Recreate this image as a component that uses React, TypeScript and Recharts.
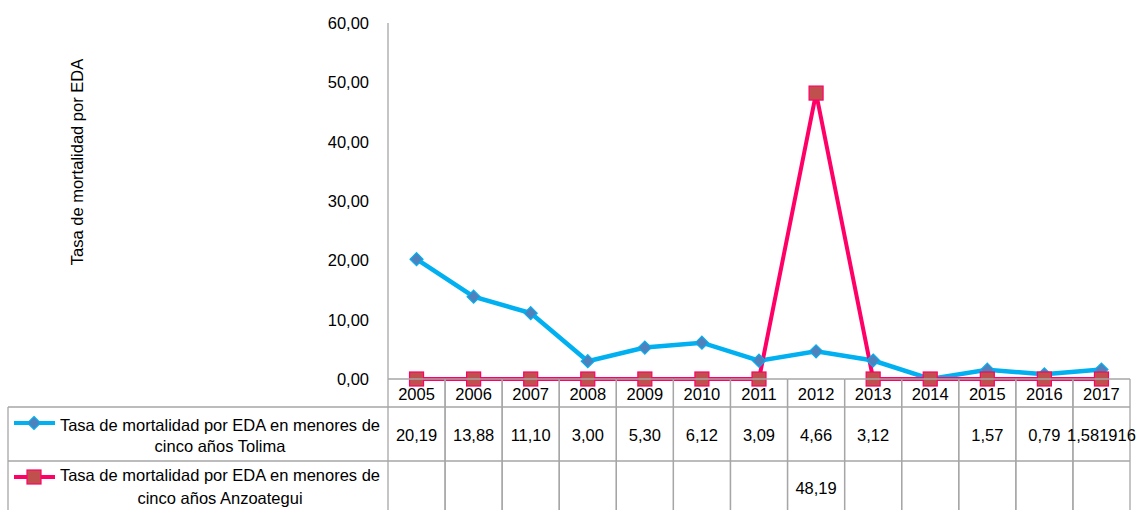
import React from "react";
import { LineChart, Line, XAxis, YAxis } from "recharts";

const years = ["2005", "2006", "2007", "2008", "2009", "2010", "2011", "2012", "2013", "2014", "2015", "2016", "2017"];
const tolima = [20.19, 13.88, 11.1, 3.0, 5.3, 6.12, 3.09, 4.66, 3.12, 0, 1.57, 0.79, 1.581916];
const anzoategui = [0, 0, 0, 0, 0, 0, 0, 48.19, 0, 0, 0, 0, 0];
const tolimaLabels = ["20,19", "13,88", "11,10", "3,00", "5,30", "6,12", "3,09", "4,66", "3,12", "", "1,57", "0,79", "1,581916"];
const anzLabels = ["", "", "", "", "", "", "", "48,19", "", "", "", "", ""];
const yTicks = [0, 10, 20, 30, 40, 50, 60];
const seriesNames = [
  ["Tasa de mortalidad por EDA en menores de", "cinco años Tolima"],
  ["Tasa de mortalidad por EDA en menores de", "cinco años Anzoategui"],
];
const yTitle = "Tasa de mortalidad por EDA";

const data = years.map((y, i) => ({ year: y, tolima: tolima[i], anz: anzoategui[i] }));

const W = 1137;
const H = 510;
const PLOT_LEFT = 388;
const PLOT_RIGHT = 1130;
const PLOT_TOP = 23;
const PLOT_BOTTOM = 379;
const COL_W = (PLOT_RIGHT - PLOT_LEFT) / years.length;
const ROW1_TOP = 28; // relative to axis top
const ROW2_TOP = 82;
const TABLE_BOTTOM = 131;
const GRID = "#A6A6A6";
const FONT = "'Liberation Sans', Arial, sans-serif";
const FS = 16.5;
const BLUE = "#00B0F0";
const PINK = "#FF0066";

const fmt = (v: number) => v.toFixed(2).replace(".", ",");

const Diamond = (props: any) => {
  const { cx, cy } = props;
  if (cx == null || cy == null) return null;
  const r = 6.5;
  return (
    <polygon
      points={`${cx},${cy - r} ${cx + r},${cy} ${cx},${cy + r} ${cx - r},${cy}`}
      fill="#4F81BD"
      stroke={BLUE}
      strokeWidth={1.2}
    />
  );
};

const Square = (props: any) => {
  const { cx, cy } = props;
  if (cx == null || cy == null) return null;
  const s = 14;
  return <rect x={cx - s / 2} y={cy - s / 2} width={s} height={s} fill="#C0504D" stroke={PINK} strokeWidth={1.2} />;
};

const TableTick = (props: any) => {
  const { x, y, payload } = props;
  const i = payload.index;
  const l = x - COL_W / 2;
  const r = x + COL_W / 2;
  const bottom = y + TABLE_BOTTOM;
  const txt = (tx: number, ty: number, s: string, anchor: string = "middle") => (
    <text x={tx} y={ty} textAnchor={anchor} dominantBaseline="central" fontFamily={FONT} fontSize={FS} fill="#000">
      {s}
    </text>
  );
  return (
    <g>
      <line x1={l} y1={y} x2={r} y2={y} stroke={GRID} strokeWidth={1.3} />
      <line x1={l} y1={y + ROW1_TOP} x2={r} y2={y + ROW1_TOP} stroke={GRID} strokeWidth={1.3} />
      <line x1={l} y1={y + ROW2_TOP} x2={r} y2={y + ROW2_TOP} stroke={GRID} strokeWidth={1.3} />
      <line x1={l} y1={y} x2={l} y2={bottom} stroke={GRID} strokeWidth={1.3} />
      <line x1={r} y1={y} x2={r} y2={bottom} stroke={GRID} strokeWidth={1.3} />
      {txt(x, y + 15, payload.value)}
      {txt(x, y + 56, tolimaLabels[i])}
      {txt(x, y + 109, anzLabels[i])}
      {i === 0 && (
        <g>
          <line x1={8} y1={y + ROW1_TOP} x2={l} y2={y + ROW1_TOP} stroke={GRID} strokeWidth={1.3} />
          <line x1={8} y1={y + ROW2_TOP} x2={l} y2={y + ROW2_TOP} stroke={GRID} strokeWidth={1.3} />
          <line x1={8} y1={y + ROW1_TOP} x2={8} y2={bottom} stroke={GRID} strokeWidth={1.3} />
          <line x1={14} y1={y + 44} x2={55} y2={y + 44} stroke={BLUE} strokeWidth={4} />
          <Diamond cx={34} cy={y + 44} />
          {txt(220, y + 46, seriesNames[0][0])}
          {txt(220, y + 67, seriesNames[0][1])}
          <line x1={14} y1={y + 98} x2={55} y2={y + 98} stroke={PINK} strokeWidth={4} />
          <Square cx={34} cy={y + 98} />
          {txt(220, y + 96, seriesNames[1][0])}
          {txt(220, y + 119, seriesNames[1][1])}
        </g>
      )}
    </g>
  );
};

const YTitle = () => (
  <text
    x={77}
    y={162}
    transform="rotate(-90, 77, 162)"
    textAnchor="middle"
    dominantBaseline="central"
    fontFamily={FONT}
    fontSize={FS}
    fill="#000"
  >
    {yTitle}
  </text>
);

export default function App() {
  return (
    <div style={{ position: "absolute", left: 0, top: 0, width: W, height: H, background: "#fff" }}>
      <LineChart
        width={W}
        height={H}
        data={data}
        margin={{ top: PLOT_TOP, right: W - PLOT_RIGHT, bottom: 0, left: PLOT_LEFT - 100 }}
      >
        <XAxis
          dataKey="year"
          scale="band"
          interval={0}
          axisLine={false}
          tickLine={false}
          tickSize={0}
          tickMargin={0}
          height={H - PLOT_BOTTOM}
          tick={<TableTick />}
        />
        <YAxis
          width={100}
          domain={[0, 60]}
          ticks={yTicks}
          tickFormatter={fmt}
          tickLine={false}
          tickSize={0}
          tickMargin={19}
          axisLine={{ stroke: GRID, strokeWidth: 1.3 }}
          tick={{ fill: "#000", fontFamily: FONT, fontSize: FS }}
          label={<YTitle />}
        />
        <Line
          dataKey="tolima"
          stroke={BLUE}
          strokeWidth={4.5}
          dot={<Diamond />}
          activeDot={false}
          isAnimationActive={false}
        />
        <Line
          dataKey="anz"
          stroke={PINK}
          strokeWidth={4}
          dot={<Square />}
          activeDot={false}
          isAnimationActive={false}
        />
      </LineChart>
    </div>
  );
}
